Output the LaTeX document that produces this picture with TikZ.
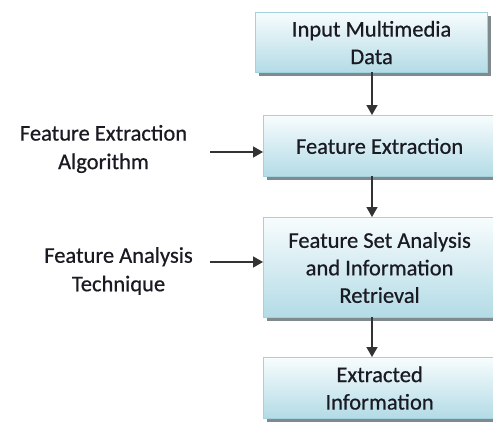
\documentclass[tikz,border=0pt]{standalone}
\usepackage{fontspec}
\setmainfont{Carlito}[FakeBold=0.6]
\usetikzlibrary{shadows,arrows.meta}
\definecolor{boxtop}{HTML}{F7FCFD}
\definecolor{boxbot}{HTML}{B3DBE6}
\definecolor{boxline}{HTML}{A3D2DF}
\definecolor{shadowc}{HTML}{7F8A8E}
\definecolor{txt}{HTML}{1A1A22}
\tikzset{
  flowbox/.style={draw=boxline, line width=1.2pt, top color=boxtop, bottom color=boxbot,
    minimum width=232pt, inner sep=0pt, anchor=north west, align=center, text=txt,
    font=\fontsize{22.5}{27.5}\selectfont,
    drop shadow={shadow xshift=3pt, shadow yshift=-3pt, fill=shadowc, opacity=1}},
  sidelabel/.style={align=center, inner sep=0pt, text=txt, font=\fontsize{22.5}{28.5}\selectfont},
  conn/.style={draw=black!80, line width=1.5pt, -{Triangle[length=10pt,width=11pt]}}
}
\begin{document}
\begin{tikzpicture}[x=1pt,y=-1pt]
\useasboundingbox (0,0) rectangle (493,421);
\fill[white] (0,0) rectangle (493,421);
\node[flowbox, minimum height=60pt] (b1) at (255,12) {Input Multimedia\\Data};
\node[flowbox, minimum height=61pt] (b2) at (263,115) {Feature Extraction};
\node[flowbox, minimum height=100pt] (b3) at (263,217) {Feature Set Analysis\\and Information\\Retrieval};
\node[flowbox, minimum height=61pt] (b4) at (263,357) {Extracted\\Information};
\node[sidelabel] (l1) at (103.5,149) {Feature Extraction\\Algorithm};
\node[sidelabel] (l2) at (118.5,271) {Feature Analysis\\Technique};
\coordinate (a1) at (210,152);
\coordinate (a2) at (210,262);
\coordinate (c1) at (372,72);
\coordinate (c2) at (372,176);
\coordinate (c3) at (372,317);
\draw[conn] (c1) -- (c1 |- b2.north);
\draw[conn] (c2) -- (c2 |- b3.north);
\draw[conn] (c3) -- (c3 |- b4.north);
\draw[conn] (a1) -- (a1 -| b2.west);
\draw[conn] (a2) -- (a2 -| b3.west);
\end{tikzpicture}
\end{document}
